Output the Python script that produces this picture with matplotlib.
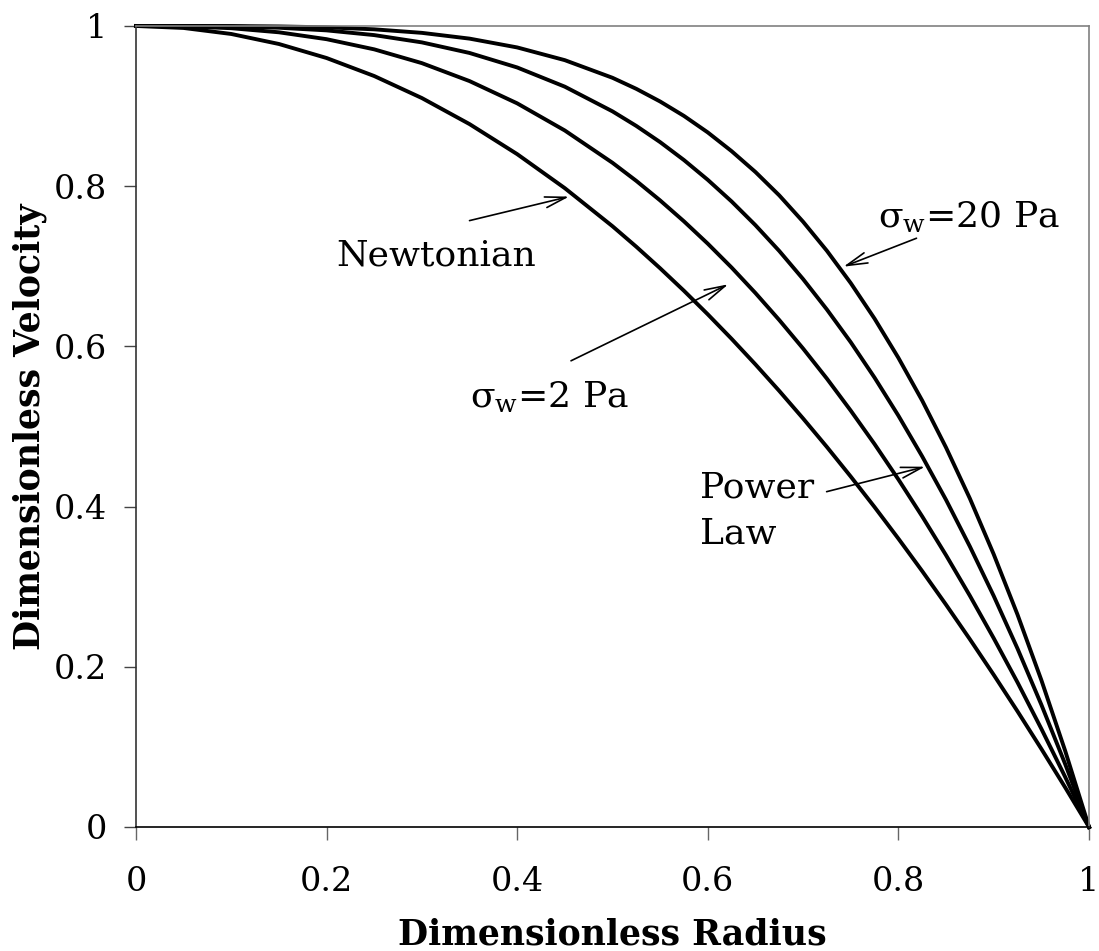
import numpy as np
import matplotlib
matplotlib.use("Agg")
import matplotlib.pyplot as plt

plt.rcParams['font.family'] = ['DejaVu Serif']
plt.rcParams['mathtext.fontset'] = 'dejavuserif'

# dimensionless radius
radius = [0.0, 0.05, 0.10, 0.15, 0.20, 0.25, 0.30, 0.35, 0.40, 0.45, 0.50,
          0.525, 0.55, 0.575, 0.60, 0.625, 0.65, 0.675, 0.70, 0.725, 0.75,
          0.775, 0.80, 0.825, 0.85, 0.875, 0.90, 0.925, 0.95, 0.975, 1.0]

# dimensionless velocity for each curve
v_newtonian = [1.0, 0.9975, 0.990, 0.9775, 0.960, 0.9375, 0.910, 0.8775, 0.840, 0.7975, 0.750,
               0.7244, 0.6975, 0.6694, 0.640, 0.6094, 0.5775, 0.5444, 0.510, 0.4744, 0.4375,
               0.3994, 0.360, 0.3194, 0.2775, 0.2344, 0.190, 0.1444, 0.0975, 0.0494, 0.0]
v_sigma2 = [1.0, 0.9995, 0.9972, 0.9921, 0.9835, 0.9708, 0.9536, 0.9312, 0.9034, 0.8695, 0.8292,
            0.8066, 0.7822, 0.7561, 0.7282, 0.6984, 0.6666, 0.6329, 0.5973, 0.5597, 0.5198,
            0.4780, 0.4339, 0.3877, 0.3393, 0.2887, 0.2357, 0.1805, 0.1226, 0.0625, 0.0]
v_powerlaw = [1.0, 0.9999, 0.9994, 0.9978, 0.9945, 0.9886, 0.9795, 0.9663, 0.9482, 0.9242, 0.8934,
              0.8752, 0.8550, 0.8326, 0.8079, 0.7809, 0.7513, 0.7191, 0.6840, 0.6460, 0.6052,
              0.5610, 0.5135, 0.4626, 0.4084, 0.3502, 0.2885, 0.2227, 0.1527, 0.0786, 0.0]
v_sigma20 = [1.0, 1.0, 0.9999, 0.9994, 0.9983, 0.9958, 0.9914, 0.9842, 0.9732, 0.9573, 0.9353,
             0.9215, 0.9057, 0.8877, 0.8671, 0.8437, 0.8177, 0.7885, 0.7556, 0.7193, 0.6790,
             0.6346, 0.5857, 0.5323, 0.4737, 0.4101, 0.3405, 0.2651, 0.1834, 0.0951, 0.0]

tick_vals = [0, 0.2, 0.4, 0.6, 0.8, 1]
tick_labels = ['0', '0.2', '0.4', '0.6', '0.8', '1']

fig = plt.figure(figsize=(10.99, 9.51), dpi=100)
ax = fig.add_axes([0.1237, 0.1304, 0.8672, 0.8423])

for v in [v_newtonian, v_sigma2, v_powerlaw, v_sigma20]:
    ax.plot(radius, v, color='black', lw=2.8, solid_joinstyle='round', clip_on=False)

ax.set_xlim(0, 1)
ax.set_ylim(0, 1)
ax.set_xticks(tick_vals)
ax.set_xticklabels(tick_labels)
ax.set_yticks(tick_vals)
ax.set_yticklabels(tick_labels)
ax.tick_params(axis='both', direction='out', length=9, width=1, labelsize=24)
ax.tick_params(axis='x', pad=19, color='#666666')
ax.tick_params(axis='y', pad=12, color='#444444')

ax.spines['top'].set_color('#808080')
ax.spines['right'].set_color('#808080')
ax.spines['left'].set_color('#333333')
ax.spines['bottom'].set_color('black')
for s in ax.spines.values():
    s.set_linewidth(1.2)

ax.set_xlabel('Dimensionless Radius', fontsize=25, fontweight='bold', labelpad=14)
ax.set_ylabel('Dimensionless Velocity', fontsize=25, fontweight='bold', labelpad=5)

# labels and arrows
arrow = dict(arrowstyle='->, head_length=0.5, head_width=0.13', lw=1.2, color='black',
             mutation_scale=30, shrinkA=0, shrinkB=0)
ax.annotate('', xy=(0.4545, 0.787), xytext=(0.350, 0.757), arrowprops=arrow)
ax.text(0.315, 0.713, 'Newtonian', fontsize=26, ha='center', va='center')

ax.annotate('', xy=(0.6215, 0.6775), xytext=(0.4565, 0.582), arrowprops=arrow)
ax.text(0.434, 0.536, 'σ$_\\mathrm{w}$=2 Pa', fontsize=26, ha='center', va='center')

ax.annotate('', xy=(0.7424, 0.6995), xytext=(0.819, 0.735), arrowprops=arrow)
ax.text(0.874, 0.7615, 'σ$_\\mathrm{w}$=20 Pa', fontsize=26, ha='center', va='center')

ax.annotate('', xy=(0.828, 0.4498), xytext=(0.7247, 0.4186), arrowprops=arrow)
ax.text(0.592, 0.395, 'Power\nLaw', fontsize=26, ha='left', va='center', linespacing=1.45)

fig.savefig('out.png', dpi=100)
